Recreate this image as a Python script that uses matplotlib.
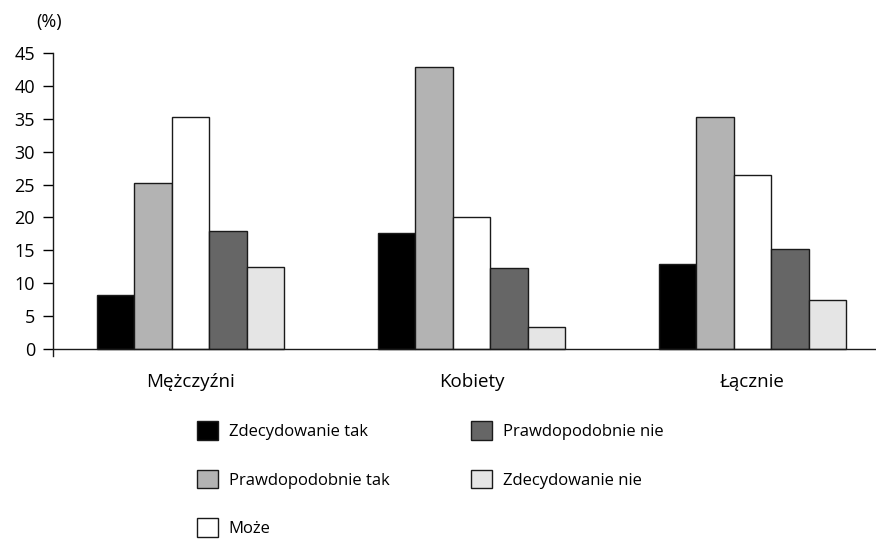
import numpy as np
import matplotlib.pyplot as plt

plt.rcParams['font.family'] = ['Open Sans', 'DejaVu Sans']

categories = ["Mężczyźni", "Kobiety", "Łącznie"]
series = ["Zdecydowanie tak", "Prawdopodobnie tak", "Może",
          "Prawdopodobnie nie", "Zdecydowanie nie"]
zdecydowanie_tak = [8.2, 17.6, 12.9]
prawdopodobnie_tak = [25.2, 42.9, 35.2]
moze = [35.2, 20.1, 26.4]
prawdopodobnie_nie = [18.0, 12.3, 15.2]
zdecydowanie_nie = [12.5, 3.4, 7.4]
yticks = [0, 5, 10, 15, 20, 25, 30, 35, 40, 45]

values = [zdecydowanie_tak, prawdopodobnie_tak, moze,
          prawdopodobnie_nie, zdecydowanie_nie]
colors = ["#000000", "#b3b3b3", "#ffffff", "#666666", "#e5e5e5"]

fig = plt.figure(figsize=(8.76, 5.4), dpi=100)
ax = fig.add_axes([53 / 876, 1 - 356 / 540, 1 - 53 / 876, (356 - 53) / 540])

x = np.arange(len(categories))
w = 0.1333
for i, (name, vals, c) in enumerate(zip(series, values, colors)):
    ax.bar(x + (i - 2) * w, vals, width=w, color=c, edgecolor="#1a1a1a",
           linewidth=1.0, label=name, zorder=2)

ax.set_xlim(-0.49, 2.44)
ax.set_ylim(-1.05, 45)
ax.axhline(0, color="#1a1a1a", linewidth=1.0, zorder=3)
ax.set_yticks(yticks)
ax.set_xticks(x)
ax.set_xticklabels(categories)
ax.tick_params(axis="x", length=0, pad=12, labelsize=13.5)
ax.tick_params(axis="y", length=7, width=1, labelsize=13, pad=6)
for s in ["top", "right", "bottom"]:
    ax.spines[s].set_visible(False)
ax.spines["left"].set_linewidth(1.0)
ax.spines["left"].set_color("#1a1a1a")

fig.text(36 / 876, 1 - 22 / 540, "(%)", fontsize=13, va="center", ha="left")

fig.legend(loc="upper left", bbox_to_anchor=(197 / 876, 1 - 421 / 540),
           ncol=2, frameon=False, fontsize=12, borderpad=0, borderaxespad=0,
           handlelength=1.25, handleheight=1.35, handletextpad=0.65,
           labelspacing=1.78, columnspacing=4.9)

fig.savefig("out.png", dpi=100)
